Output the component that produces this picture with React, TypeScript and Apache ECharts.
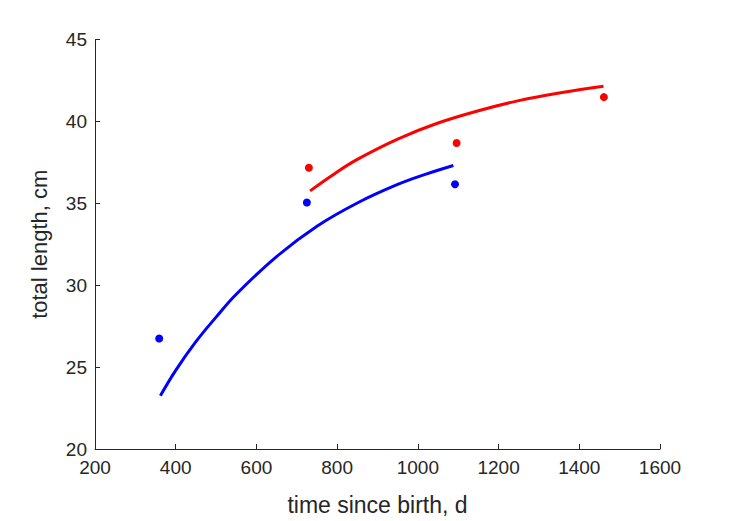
import React, { useEffect, useRef } from "react";
import * as echarts from "echarts";

// observed data
const blueObsX = [359, 725, 1092];
const blueObsY = [26.75, 35.05, 36.16];
const redObsX = [730, 1096, 1461];
const redObsY = [37.17, 38.68, 41.48];

// fitted curves
const blueFitX = [362, 400, 450, 500, 550, 650, 750, 850, 950, 1020, 1088];
const blueFitY = [23.25, 24.8, 26.55, 28.05, 29.45, 31.75, 33.6, 35.02, 36.15, 36.78, 37.31];
const redFitX = [733, 790, 850, 950, 1050, 1150, 1250, 1350, 1460];
const redFitY = [35.76, 36.75, 37.68, 38.92, 39.9, 40.65, 41.27, 41.74, 42.15];

const xTicks = { min: 200, max: 1600, interval: 200 };
const yTicks = { min: 20, max: 45, interval: 5 };

const zip = (xs: number[], ys: number[]) => xs.map((x, i) => [x, ys[i]]);

const FONT = "Liberation Sans, Arial, sans-serif";
const AX = "#262626";

export default function App() {
  const ref = useRef<HTMLDivElement>(null);
  useEffect(() => {
    if (!ref.current) return;
    const chart = echarts.init(ref.current, undefined, { renderer: "svg" });
    chart.setOption({
      animation: false,
      backgroundColor: "#ffffff",
      grid: { left: 95, right: 69, top: 39.5, bottom: 68 },
      xAxis: {
        type: "value",
        min: xTicks.min,
        max: xTicks.max,
        interval: xTicks.interval,
        name: "time since birth, d",
        nameLocation: "middle",
        nameGap: 44,
        nameTextStyle: { color: AX, fontSize: 23, fontFamily: FONT },
        axisLine: { show: true, lineStyle: { color: AX, width: 1 } },
        axisTick: { show: true, inside: true, length: 5, lineStyle: { color: AX } },
        axisLabel: { color: AX, fontSize: 19, fontFamily: FONT, margin: 9, formatter: (v: number) => String(v) },
        splitLine: { show: false },
      },
      yAxis: {
        type: "value",
        min: yTicks.min,
        max: yTicks.max,
        interval: yTicks.interval,
        name: "total length, cm",
        nameLocation: "middle",
        nameGap: 45,
        nameTextStyle: { color: AX, fontSize: 22, fontFamily: FONT },
        axisLine: { show: true, lineStyle: { color: AX, width: 1 } },
        axisTick: { show: true, inside: true, length: 5, lineStyle: { color: AX } },
        axisLabel: { color: AX, fontSize: 19, fontFamily: FONT, margin: 8, formatter: (v: number) => String(v) },
        splitLine: { show: false },
      },
      series: [
        {
          type: "line",
          data: zip(blueFitX, blueFitY),
          smooth: 0.4,
          showSymbol: false,
          lineStyle: { color: "#0000ff", width: 3 },
          z: 2,
        },
        {
          type: "line",
          data: zip(redFitX, redFitY),
          smooth: 0.4,
          showSymbol: false,
          lineStyle: { color: "#ff0000", width: 3 },
          z: 2,
        },
        {
          type: "scatter",
          data: zip(blueObsX, blueObsY),
          symbol: "circle",
          symbolSize: 8,
          itemStyle: { color: "#0000ff", opacity: 1 },
          z: 3,
        },
        {
          type: "scatter",
          data: zip(redObsX, redObsY),
          symbol: "circle",
          symbolSize: 8,
          itemStyle: { color: "#ff0000", opacity: 1 },
          z: 3,
        },
      ],
    });
    return () => chart.dispose();
  }, []);
  return <div ref={ref} style={{ width: 729, height: 521, position: "absolute", left: 0, top: 0 }} />;
}
